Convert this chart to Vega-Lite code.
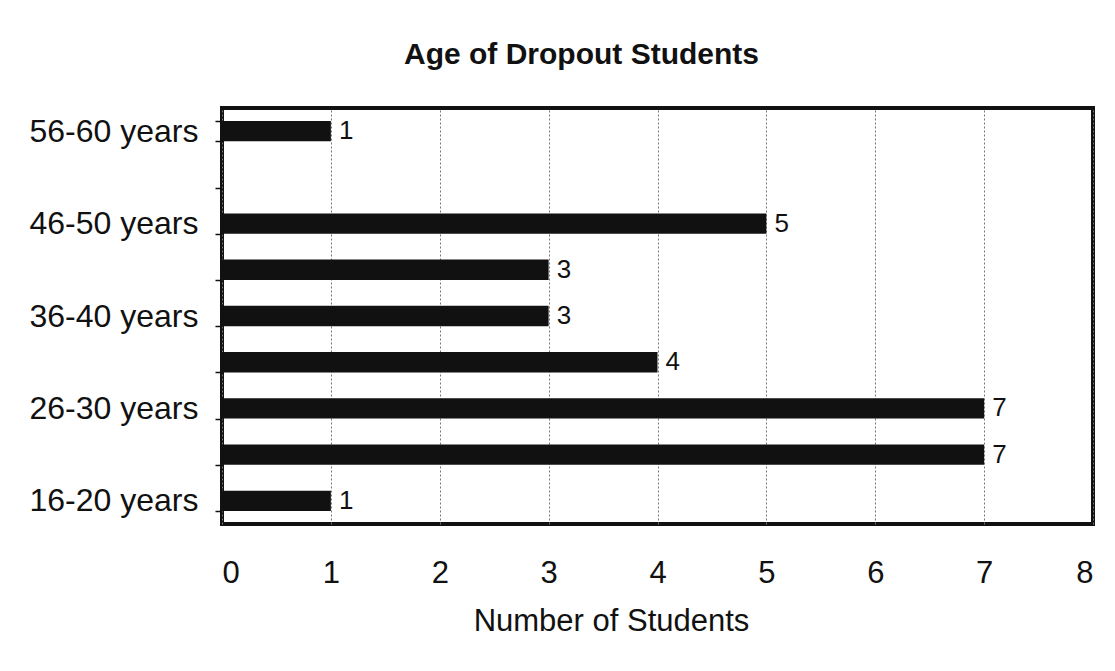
{
  "$schema": "https://vega.github.io/schema/vega-lite/v6.json",
  "width": 871,
  "height": 416,
  "autosize": "none",
  "padding": {"left": 222, "top": 108, "right": 22, "bottom": 147},
  "background": "white",
  "title": {
    "text": "Age of Dropout Students",
    "font": "Liberation Sans",
    "fontSize": 30,
    "fontWeight": "bold",
    "color": "#111",
    "anchor": "middle",
    "dx": -76,
    "offset": 22
  },
  "config": {
    "view": {"stroke": "#111", "strokeWidth": 4},
    "font": "Liberation Sans"
  },
  "data": {
    "values": [
      {"age": "56-60 years", "students": 1},
      {"age": "51-55 years", "students": 0},
      {"age": "46-50 years", "students": 5},
      {"age": "41-45 years", "students": 3},
      {"age": "36-40 years", "students": 3},
      {"age": "31-35 years", "students": 4},
      {"age": "26-30 years", "students": 7},
      {"age": "21-25 years", "students": 7},
      {"age": "16-20 years", "students": 1}
    ]
  },
  "encoding": {
    "y": {
      "field": "age",
      "type": "nominal",
      "sort": ["56-60 years", "51-55 years", "46-50 years", "41-45 years", "36-40 years", "31-35 years", "26-30 years", "21-25 years", "16-20 years"],
      "scale": {"paddingInner": 0.56, "paddingOuter": 0.28},
      "axis": {
        "title": null,
        "domain": false,
        "tickBand": "extent",
        "tickSize": 7,
        "tickColor": "#111",
        "tickWidth": 1.5,
        "labelFontSize": 32,
        "labelColor": "#111",
        "labelPadding": 17,
        "labelOverlap": false,
        "labelExpr": "indexof(['56-60 years','46-50 years','36-40 years','26-30 years','16-20 years'], datum.value) >= 0 ? datum.value : ''"
      }
    },
    "x": {
      "field": "students",
      "type": "quantitative",
      "scale": {"domain": [0, 8], "nice": false},
      "axis": {
        "title": "Number of Students",
        "titleFontSize": 31,
        "titleFontWeight": "normal",
        "titleColor": "#111",
        "titlePadding": 18,
        "titleX": 389,
        "values": [0, 1, 2, 3, 4, 5, 6, 7, 8],
        "labelOverlap": false,
        "domain": false,
        "ticks": false,
        "labelFontSize": 31,
        "labelColor": "#111",
        "labelPadding": 34,
        "grid": true,
        "gridColor": "#777",
        "gridWidth": 1,
        "gridDash": [2, 2]
      }
    }
  },
  "layer": [
    {"mark": {"type": "bar", "color": "#111"}},
    {
      "transform": [{"filter": "datum.students > 0"}],
      "mark": {"type": "text", "align": "left", "baseline": "middle", "dx": 8, "fontSize": 26, "color": "#111"},
      "encoding": {"text": {"field": "students", "type": "quantitative"}}
    }
  ]
}
